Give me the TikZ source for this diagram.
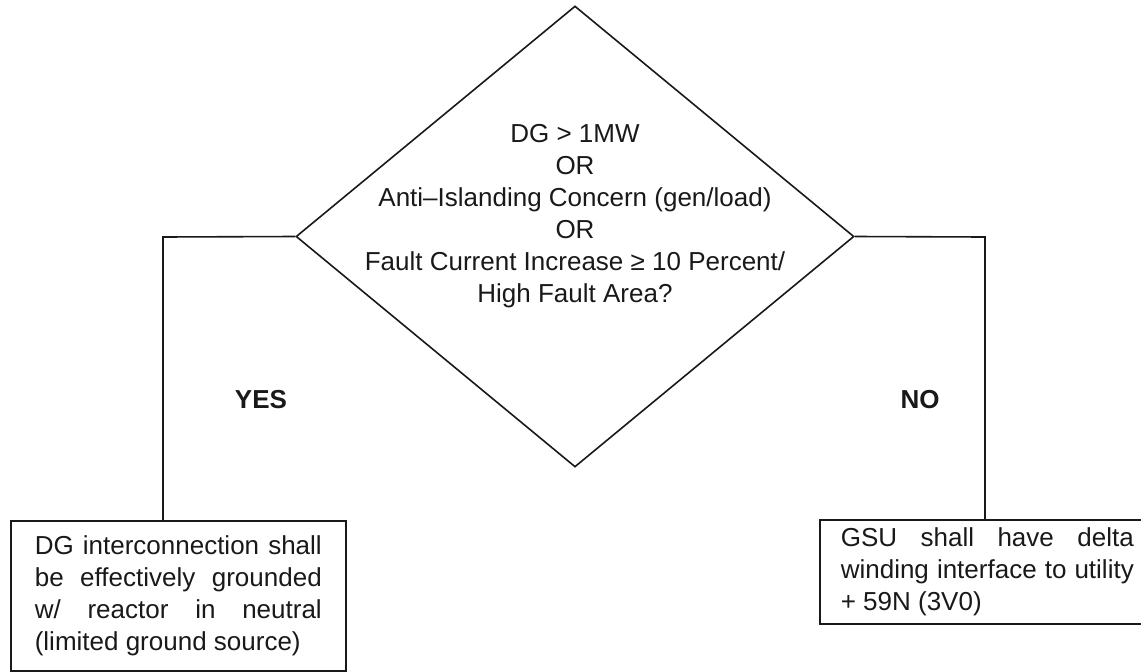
\documentclass[tikz,border=0pt]{standalone}
\usepackage{fontspec}
\setmainfont{Liberation Sans}
\usetikzlibrary{shapes.geometric}
\tikzset{
  line/.style={line width=1.6pt, draw=black!90},
  decision/.style={diamond, draw=black!90, line width=1.6pt, inner sep=0pt, minimum width=558pt, minimum height=461pt},
  txt/.style={font=\fontsize{26}{32}\selectfont, text=black!90},
  outbox/.style={draw=black!90, line width=1.6pt, rectangle, anchor=north west, inner sep=0pt, font=\fontsize{26}{32}\selectfont, text=black!90, align=left},
  lbl/.style={font=\fontsize{26}{32}\selectfont\bfseries, text=black!90}
}
\begin{document}
\begin{tikzpicture}[x=1pt,y=-1pt]
\useasboundingbox (0,0) rectangle (1141,672);
\clip (0,0) rectangle (1141,672);
\node[decision] (d) at (575,236.5) {};
\node[txt, align=center] (q) at (575,216) {DG > 1MW\\OR\\Anti–Islanding Concern (gen/load)\\OR\\Fault Current Increase ≥ 10 Percent/\\High Fault Area?};
\node[outbox, minimum width=335pt, minimum height=150pt] (lbox) at (10,520)
  {\makebox[287pt][s]{DG interconnection shall}\\
   \makebox[287pt][s]{be effectively grounded}\\
   \makebox[287pt][s]{w/ reactor in neutral}\\
   (limited ground source)};
\node[outbox, minimum width=335pt, minimum height=104pt] (rbox) at (819,519)
  {\makebox[293pt][s]{GSU shall have delta}\\
   \makebox[293pt][s]{winding interface to utility}\\
   + 59N (3V0)\hfill\null};
\coordinate (lc) at (163,237);
\coordinate (rc) at (985,237);
\draw[line] (d.west) -- (lc) -- (lc |- lbox.north);
\draw[line] (d.east) -- (rc) -- (rc |- rbox.north);
\node[lbl] (yes) at (261,400) {YES};
\node[lbl] (no) at (920,400) {NO};
\end{tikzpicture}
\end{document}
